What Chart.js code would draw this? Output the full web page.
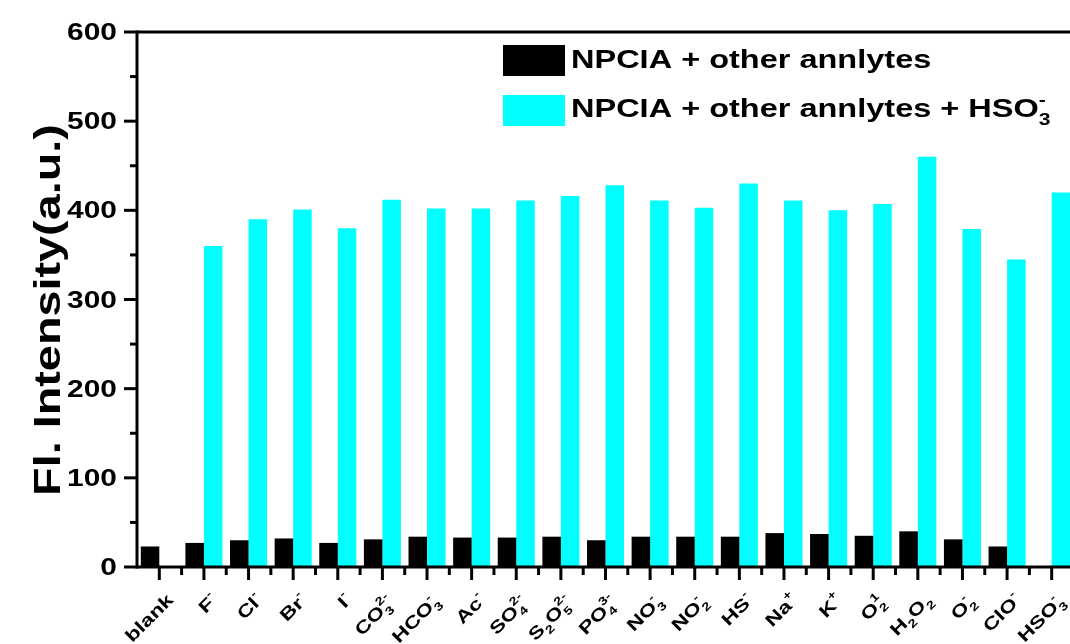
<!DOCTYPE html>
<html>
<head>
<meta charset="utf-8">
<script src="https://cdn.jsdelivr.net/npm/chart.js@4.4.1/dist/chart.umd.min.js"></script>
<style>
  html, body { margin: 0; padding: 0; background: #fff; overflow: hidden; }
  canvas { display: block; }
</style>
</head>
<body>
<canvas id="chart" width="1074" height="644"></canvas>
<script>
// _x = subscript, ^x = superscript, {..} groups several characters
const analytes = ['blank', 'F^-', 'Cl^-', 'Br^-', 'I^-', 'CO_3^{2-}', 'HCO_3^-', 'Ac^-', 'SO_4^{2-}',
  'S_2O_5^{2-}', 'PO_4^{3-}', 'NO_3^-', 'NO_2^-', 'HS^-', 'Na^+', 'K^+', 'O_2^1', 'H_2O_2',
  'O_2^-', 'ClO^-', 'HSO_3^-'];
const otherAnalytes = [23, 27, 30, 32, 27, 31, 34, 33, 33, 34, 30, 34, 34, 34, 38, 37, 35, 40, 31, 23, 0];
const plusBisulfite = [0, 360, 390, 401, 380, 412, 402, 402, 411, 416, 428, 411, 403, 430, 411, 400, 407, 460, 379, 345, 420];
const yTicks = [0, 100, 200, 300, 400, 500, 600];
const yTitle = 'Fl. Intensity(a.u.)';
const legendLabels = ['NPCIA + other annlytes', 'NPCIA + other annlytes + HSO_3^-'];
const seriesColors = ['#000000', '#00ffff'];

const FONT = '"Liberation Sans", Arial, sans-serif';
const STRETCH = 1.3;

function parseFormula(str) {
  const runs = [];
  let i = 0;
  const group = () => {
    if (str[i] === '{') {
      const j = str.indexOf('}', i);
      const g = str.slice(i + 1, j);
      i = j + 1;
      return g;
    }
    return str[i++];
  };
  while (i < str.length) {
    const c = str[i];
    if (c === '_' || c === '^') {
      i++;
      const key = c === '_' ? 'sub' : 'sup';
      const g = group();
      const last = runs[runs.length - 1];
      // sub and sup next to each other are stacked
      if (last && last.script && !last[key]) last[key] = g;
      else runs.push({ script: true, [key]: g });
    } else {
      const last = runs[runs.length - 1];
      if (last && !last.script) last.text += c;
      else runs.push({ text: c });
      i++;
    }
  }
  return runs;
}

// a stacked pair keeps a little of the narrower script's width when aligning
function runsWidth(ctx, runs, size) {
  let w = 0;
  runs.forEach((r) => {
    if (r.script) {
      ctx.font = `bold ${size * 0.65}px ${FONT}`;
      const a = r.sub ? ctx.measureText(r.sub).width : 0;
      const b = r.sup ? ctx.measureText(r.sup).width : 0;
      w += Math.max(a, b) + 0.4 * Math.min(a, b);
    } else {
      ctx.font = `bold ${size}px ${FONT}`;
      w += ctx.measureText(r.text).width;
    }
  });
  return w;
}

function drawFormula(ctx, str, size, x, y, angle, align) {
  const runs = parseFormula(str);
  ctx.save();
  ctx.translate(x, y);
  ctx.rotate(angle);
  ctx.scale(STRETCH, 1);
  ctx.fillStyle = '#000';
  ctx.textAlign = 'left';
  ctx.textBaseline = 'alphabetic';
  const w = runsWidth(ctx, runs, size);
  let cx = align === 'right' ? -w : align === 'center' ? -w / 2 : 0;
  runs.forEach((r) => {
    if (r.script) {
      ctx.font = `bold ${size * 0.65}px ${FONT}`;
      let adv = 0;
      if (r.sub) { ctx.fillText(r.sub, cx, size * 0.3); adv = ctx.measureText(r.sub).width; }
      if (r.sup) { ctx.fillText(r.sup, cx, -size * 0.5); adv = Math.max(adv, ctx.measureText(r.sup).width); }
      cx += adv;
    } else {
      ctx.font = `bold ${size}px ${FONT}`;
      ctx.fillText(r.text, cx, 0);
      cx += ctx.measureText(r.text).width;
    }
  });
  ctx.restore();
}

function line(ctx, x1, y1, x2, y2) {
  ctx.beginPath();
  ctx.moveTo(x1, y1);
  ctx.lineTo(x2, y2);
  ctx.stroke();
}

// axes, ticks, labels and legend in the Origin style
const framePlugin = {
  id: 'frame',
  afterDatasetsDraw(chart) {
    const { ctx, chartArea: a, scales: { x, y } } = chart;
    ctx.save();
    ctx.strokeStyle = '#000';
    ctx.lineWidth = 3;
    ctx.lineCap = 'butt';

    line(ctx, a.left, a.top - 1.5, a.left, a.bottom + 1.5);
    line(ctx, a.left, a.bottom, a.right, a.bottom);
    line(ctx, a.left, a.top, a.right, a.top);

    yTicks.forEach((v, k) => {
      const py = y.getPixelForValue(v);
      line(ctx, a.left - 13, py, a.left, py);
      drawFormula(ctx, String(v), 23, 117, py + 8, 0, 'right');
      if (k < yTicks.length - 1) {
        const my = y.getPixelForValue((v + yTicks[k + 1]) / 2);
        line(ctx, a.left - 7, my, a.left, my);
      }
    });

    analytes.forEach((lab, i) => {
      const px = x.getPixelForValue(i);
      line(ctx, px, a.bottom, px, a.bottom + 13);
      const edge = (px + x.getPixelForValue(i - 1)) / 2;
      if (i > 0) line(ctx, edge, a.bottom, edge, a.bottom + 8);
      drawFormula(ctx, lab, 17.5, px + 15, a.bottom + 34, -Math.PI / 4, 'right');
    });

    drawFormula(ctx, yTitle, 36, 60, 310, -Math.PI / 2, 'center');

    const rows = [{ box: 45, base: 68 }, { box: 95, base: 117 }];
    rows.forEach((r, k) => {
      ctx.fillStyle = seriesColors[k];
      ctx.fillRect(503, r.box, 62, 31);
      drawFormula(ctx, legendLabels[k], 25, 571, r.base, 0, 'left');
    });
    ctx.restore();
  }
};

new Chart(document.getElementById('chart'), {
  type: 'bar',
  data: {
    labels: analytes,
    datasets: [
      { label: legendLabels[0], data: otherAnalytes, backgroundColor: seriesColors[0] },
      { label: legendLabels[1], data: plusBisulfite, backgroundColor: seriesColors[1] }
    ]
  },
  options: {
    responsive: false,
    animation: false,
    events: [],
    layout: { padding: { left: 137, right: 0, top: 32, bottom: 77 } },
    datasets: { bar: { categoryPercentage: 0.83, barPercentage: 1 } },
    plugins: { legend: { display: false }, tooltip: { enabled: false } },
    scales: {
      x: { display: false },
      y: { display: false, min: 0, max: 600 }
    }
  },
  plugins: [framePlugin]
});
</script>
</body>
</html>
